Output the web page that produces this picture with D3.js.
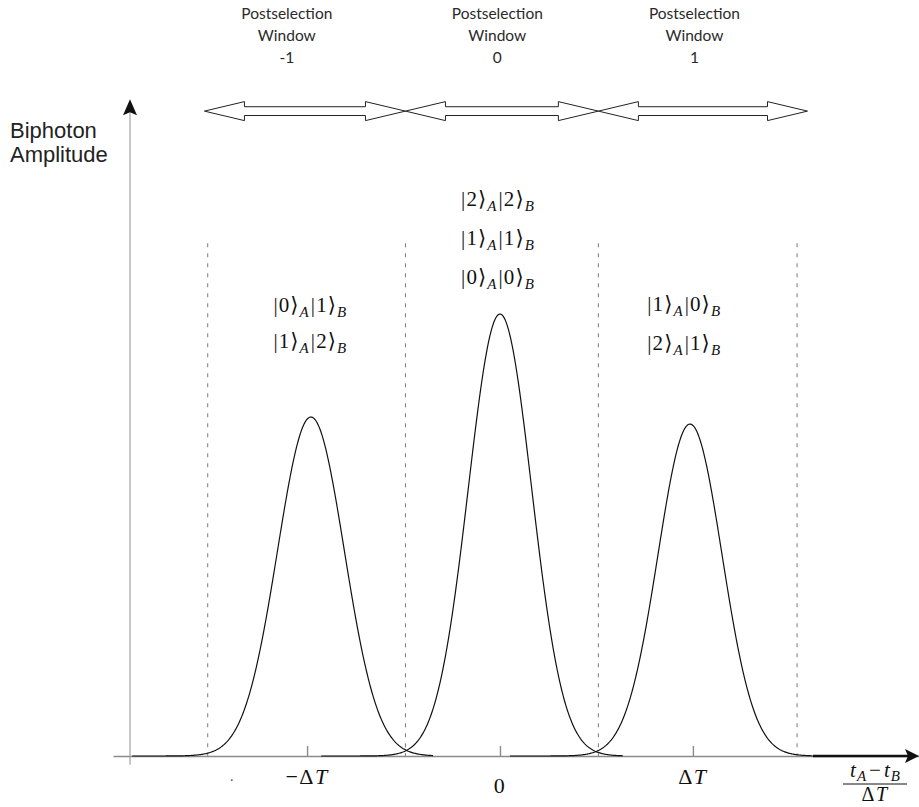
<!DOCTYPE html>
<html>
<head>
<meta charset="utf-8">
<script src="https://cdn.jsdelivr.net/npm/d3@7"></script>
<style>
  body { margin: 0; background: #fff; }
  svg { display: block; }
</style>
</head>
<body>
<svg id="chart" width="919" height="807"></svg>
<script>
// ---- data (time offsets in units of ΔT, amplitudes relative to the central peak) ----
const peakCenters = [-0.98, 0.0, 0.985];
const peakHeights = [0.767, 1.0, 0.751];
const peakWidths  = [0.173, 0.164, 0.166];
const curveSpans  = [[-1.907, -0.347], [-0.927, 0.637], [0.052, 1.622]];

const xTickValues = [-1, 0, 1];
const xTickLabels = [["−", "Δ", "T"], ["", "0", ""], ["", "Δ", "T"]];

const windowBounds = [-1.515, -0.49, 0.51, 1.54];          // dashed postselection limits
const windowArrows = [[-1.532, -0.49], [-0.49, 0.51], [0.51, 1.594]];
const windowNames  = ["-1", "0", "1"];
const windowLabelX = [-1.105, -0.014, 1.008];

const ketGroupX = [-0.983, -0.01, 0.955];
const ketGroups = [
  [["0", "1"], ["1", "2"]],
  [["2", "2"], ["1", "1"], ["0", "0"]],
  [["1", "0"], ["2", "1"]]
];
const ketBaselines = [[312, 348], [206, 245, 284], [311, 350]];

const xDomain = [-2.006, 2.172];
const yAxisTop = 1.486;
const dashTop = 1.16;
const arrowLevel = 1.459;

// ---- scales ----
const svg = d3.select("#chart");
const x = d3.scaleLinear().domain(xDomain).range([113, 919]);
const y = d3.scaleLinear().domain([0, 1]).range([756, 314]);

const axisGrey = "#8a8a8a";
const mathFont = "'Liberation Serif', 'DejaVu Serif', serif";

// dashed window limits
svg.append("g").selectAll("line").data(windowBounds).join("line")
  .attr("x1", d => x(d)).attr("x2", d => x(d))
  .attr("y1", y(dashTop)).attr("y2", y(0))
  .attr("stroke", "#7a7a7a").attr("stroke-width", 1)
  .attr("stroke-dasharray", "4,6");

// horizontal axis with inward ticks
const xAxis = d3.axisTop(x).tickValues(xTickValues).tickSizeInner(10).tickSizeOuter(0).tickFormat("");
const gx = svg.append("g").attr("transform", `translate(0,${y(0)})`).call(xAxis);
gx.select(".domain").attr("stroke", axisGrey).attr("stroke-width", 1.6);
gx.selectAll(".tick line").attr("stroke", axisGrey).attr("stroke-width", 1.4);

// axis arrow shaft and head
const xEnd = x(xDomain[1]);
svg.append("line")
  .attr("x1", x(curveSpans[2][1])).attr("x2", xEnd - 8)
  .attr("y1", y(0)).attr("y2", y(0))
  .attr("stroke", "#111").attr("stroke-width", 2.6);
svg.append("path")
  .attr("d", d3.line()([[xEnd, y(0)], [xEnd - 14, y(0) - 7], [xEnd - 11, y(0)], [xEnd - 14, y(0) + 7]]) + "Z")
  .attr("fill", "#111");

// vertical axis
const yTipPx = y(yAxisTop);
svg.append("line")
  .attr("x1", 130).attr("x2", 130)
  .attr("y1", y(-0.02)).attr("y2", yTipPx + 12)
  .attr("stroke", "#999").attr("stroke-width", 1.1);
svg.append("path")
  .attr("d", d3.line()([[130, yTipPx], [137, yTipPx + 16], [130, yTipPx + 13], [123, yTipPx + 16]]) + "Z")
  .attr("fill", "#111");

// amplitude curves
const line = d3.line().x(d => x(d[0])).y(d => y(d[1])).curve(d3.curveLinear);
peakCenters.forEach((c, i) => {
  const pts = d3.range(curveSpans[i][0], curveSpans[i][1] + 1e-9, 0.004).map(t => {
    const u = (t - c) / peakWidths[i];
    return [t, peakHeights[i] * Math.exp(-0.5 * u * u)];
  });
  svg.append("path").datum(pts).attr("d", line)
    .attr("fill", "none").attr("stroke", "#111").attr("stroke-width", 1.2);
});

// postselection window arrows
const ay = y(arrowLevel), hl = 40, hh = 9.5, sw = 4.4;
svg.append("g").selectAll("path").data(windowArrows).join("path")
  .attr("d", d => {
    const a = x(d[0]), b = x(d[1]);
    return d3.line()([
      [a, ay], [a + hl, ay - hh], [a + hl, ay - sw], [b - hl, ay - sw], [b - hl, ay - hh],
      [b, ay], [b - hl, ay + hh], [b - hl, ay + sw], [a + hl, ay + sw], [a + hl, ay + hh]
    ]) + "Z";
  })
  .attr("fill", "none").attr("stroke", "#222").attr("stroke-width", 1);

// window titles
const titles = svg.append("g")
  .attr("font-family", "Lato, 'Open Sans', sans-serif").attr("font-weight", 400)
  .attr("font-size", 15.5).attr("fill", "#2a2a2a").attr("text-anchor", "middle");
windowNames.forEach((n, i) => {
  const cx = x(windowLabelX[i]);
  const t = titles.append("text").attr("x", cx);
  t.append("tspan").attr("x", cx).attr("y", 19).text("Postselection");
  t.append("tspan").attr("x", cx).attr("y", 41).text("Window");
  t.append("tspan").attr("x", cx).attr("y", 63).text(n);
});

// vertical axis title
const yt = svg.append("text")
  .attr("font-family", "'Liberation Sans', Arial, sans-serif")
  .attr("font-size", 22).attr("fill", "#222");
yt.append("tspan").attr("x", 10).attr("y", 138).text("Biphoton");
yt.append("tspan").attr("x", 10).attr("y", 162).text("Amplitude");

// photon-number kets
function ket(sel, a, b) {
  sel.append("tspan").text("|" + a + "⟩");
  sel.append("tspan").attr("font-style", "italic").attr("font-size", 15).attr("dy", 5).text("A");
  sel.append("tspan").attr("dy", -5).attr("dx", 1).text("|" + b + "⟩");
  sel.append("tspan").attr("font-style", "italic").attr("font-size", 15).attr("dy", 5).text("B");
}
ketGroups.forEach((grp, gi) => {
  grp.forEach((k, ki) => {
    const t = svg.append("text")
      .attr("x", x(ketGroupX[gi])).attr("y", ketBaselines[gi][ki])
      .attr("font-family", mathFont).attr("font-size", 21)
      .attr("letter-spacing", 1.1)
      .attr("fill", "#111").attr("text-anchor", "middle");
    ket(t, k[0], k[1]);
  });
});

// tick labels
xTickValues.forEach((v, i) => {
  const [pre, body, it] = xTickLabels[i];
  const t = svg.append("text")
    .attr("x", x(v)).attr("y", v === 0 ? 793 : 784)
    .attr("font-family", mathFont).attr("font-size", 22)
    .attr("letter-spacing", 1.5)
    .attr("fill", "#111").attr("text-anchor", "middle");
  if (pre) t.append("tspan").text(pre);
  t.append("tspan").text(body);
  if (it) t.append("tspan").attr("font-style", "italic").text(it);
});
svg.append("text").attr("x", 230).attr("y", 781)
  .attr("font-family", mathFont).attr("font-size", 14).attr("fill", "#444").text(".");

// axis variable as a fraction
const fx = 875;
const num = svg.append("text").attr("x", fx).attr("y", 777)
  .attr("font-family", mathFont).attr("font-size", 21).attr("fill", "#111")
  .attr("text-anchor", "middle");
num.append("tspan").attr("font-style", "italic").text("t");
num.append("tspan").attr("font-style", "italic").attr("font-size", 15).attr("dy", 4).attr("dx", 1).text("A");
num.append("tspan").attr("dy", -4).attr("dx", 3).text("−");
num.append("tspan").attr("font-style", "italic").attr("dx", 3).text("t");
num.append("tspan").attr("font-style", "italic").attr("font-size", 15).attr("dy", 4).attr("dx", 1).text("B");
svg.append("line").attr("x1", 843).attr("x2", 907).attr("y1", 784).attr("y2", 784)
  .attr("stroke", "#111").attr("stroke-width", 1);
const den = svg.append("text").attr("x", fx).attr("y", 801)
  .attr("font-family", mathFont).attr("font-size", 20).attr("fill", "#111")
  .attr("letter-spacing", 1.5).attr("text-anchor", "middle");
den.append("tspan").text("Δ");
den.append("tspan").attr("font-style", "italic").text("T");
</script>
</body>
</html>
